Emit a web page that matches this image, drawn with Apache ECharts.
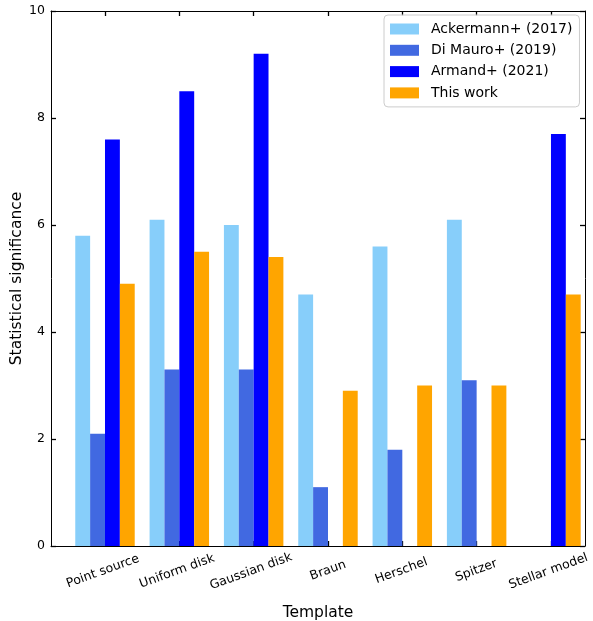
<!DOCTYPE html>
<html>
<head>
<meta charset="utf-8">
<title>Statistical significance by template</title>
<script src="https://cdn.jsdelivr.net/npm/echarts@6/dist/echarts.min.js"></script>
<style>
  html, body { margin: 0; padding: 0; background: #ffffff; }
  #chart { width: 593px; height: 621px; }
</style>
</head>
<body>
<div id="chart"></div>
<script>
// Templates on the x axis
const categories = ['Point source', 'Uniform disk', 'Gaussian disk', 'Braun', 'Herschel', 'Spitzer', 'Stellar model'];

// Significance per template for each analysis (null = not reported)
const ackermann2017 = [5.8, 6.1, 6.0, 4.7, 5.6, 6.1, null];
const diMauro2019   = [2.1, 3.3, 3.3, 1.1, 1.8, 3.1, null];
const armand2021    = [7.6, 8.5, 9.2, null, null, null, 7.7];
const thisWork      = [4.9, 5.5, 5.4, 2.9, 3.0, 3.0, 4.7];

const seriesNames = ['Ackermann+ (2017)', 'Di Mauro+ (2019)', 'Armand+ (2021)', 'This work'];

// y axis range and tick step
const yMin = 0;
const yMax = 10;
const yStep = 2;

const FONT = '"DejaVu Sans", "Noto Sans", sans-serif';
const tickFontSize = 12.5;
const labelFontSize = 15.5;
const colors = ['#87CEFA', '#4169E1', '#0000FF', '#FFA500'];

// Rotated tick labels: keep the top of every rotated label box on one line,
// so longer labels sit a little lower (shift done in the text's own frame).
const ctx = document.createElement('canvas').getContext('2d');
ctx.font = tickFontSize + 'px "DejaVu Sans"';
const widths = categories.map(c => ctx.measureText(c).width);
const minW = Math.min.apply(null, widths);
const ang = 20 * Math.PI / 180;
const catItems = categories.map((c, i) => {
  const dy = (widths[i] - minW) * Math.sin(ang) / 2;
  return {
    value: c,
    textStyle: {
      align: 'center',
      verticalAlign: 'middle',
      padding: [2 * dy * Math.cos(ang), 2 * dy * Math.sin(ang), 0, 0]
    }
  };
});

const chart = echarts.init(document.getElementById('chart'), null, { renderer: 'canvas' });

const frameLine = { show: true, onZero: false, lineStyle: { color: '#000', width: 1 } };
const inTick = { show: true, inside: true, length: 5, lineStyle: { color: '#000', width: 1.3 } };

const option = {
  backgroundColor: '#ffffff',
  animation: false,
  textStyle: { fontFamily: FONT },
  color: colors,
  legend: {
    orient: 'vertical',
    left: 384,
    top: 15,
    data: seriesNames,
    icon: 'rect',
    itemWidth: 29,
    itemHeight: 11,
    itemGap: 5.3,
    padding: [6, 7, 6, 6],
    backgroundColor: 'rgba(255,255,255,0.8)',
    borderColor: '#cccccc',
    borderWidth: 1,
    borderRadius: 4,
    textStyle: {
      fontFamily: FONT,
      fontSize: 14,
      lineHeight: 16,
      color: '#000',
      padding: [0, 0, 0, 7]
    }
  },
  grid: [
    // frame of the axes
    { left: 51, right: 8, top: 11, bottom: 75, outerBoundsMode: 'none', containLabel: false },
    // bar area: category bands aligned with the frame
    { left: 67.83, width: 520.3, top: 11, bottom: 75, outerBoundsMode: 'none', containLabel: false }
  ],
  xAxis: [
    {
      gridIndex: 0, type: 'value', min: 0, max: 1, position: 'bottom',
      axisLine: frameLine, axisTick: { show: false }, axisLabel: { show: false },
      splitLine: { show: false },
      name: 'Template', nameLocation: 'middle', nameGap: 59, nameMoveOverlap: false,
      nameTextStyle: { fontFamily: FONT, fontSize: labelFontSize, color: '#000' }
    },
    {
      gridIndex: 0, type: 'value', min: 0, max: 1, position: 'top',
      axisLine: frameLine, axisTick: { show: false }, axisLabel: { show: false },
      splitLine: { show: false }
    },
    {
      gridIndex: 1, type: 'category', data: catItems, position: 'bottom',
      axisLine: { show: false, onZero: false },
      axisTick: Object.assign({ alignWithLabel: true, interval: 0 }, inTick),
      axisLabel: {
        interval: 0, rotate: 20, align: 'center', verticalAlign: 'middle',
        margin: 24.5, fontFamily: FONT, fontSize: tickFontSize, color: '#000'
      },
      splitLine: { show: false }
    },
    {
      gridIndex: 1, type: 'category', data: categories, position: 'top',
      axisLine: { show: false, onZero: false },
      axisTick: Object.assign({ alignWithLabel: true, interval: 0 }, inTick),
      axisLabel: { show: false },
      splitLine: { show: false }
    }
  ],
  yAxis: [
    {
      gridIndex: 0, type: 'value', min: yMin, max: yMax, interval: yStep, position: 'left',
      axisLine: frameLine, axisTick: inTick,
      axisLabel: { margin: 6, fontFamily: FONT, fontSize: tickFontSize, color: '#000' },
      splitLine: { show: false },
      name: 'Statistical significance', nameLocation: 'middle', nameGap: 26, nameMoveOverlap: false,
      nameTextStyle: { fontFamily: FONT, fontSize: labelFontSize, color: '#000' }
    },
    {
      gridIndex: 0, type: 'value', min: yMin, max: yMax, interval: yStep, position: 'right',
      axisLine: frameLine, axisTick: inTick, axisLabel: { show: false },
      splitLine: { show: false }
    },
    {
      gridIndex: 1, type: 'value', min: yMin, max: yMax, interval: yStep, show: false
    }
  ],
  series: [ackermann2017, diMauro2019, armand2021, thisWork].map((vals, i) => ({
    name: seriesNames[i],
    type: 'bar',
    xAxisIndex: 2,
    yAxisIndex: 2,
    data: vals.map(v => (v === null ? '-' : v)),
    barWidth: '20%',
    barGap: '0%',
    itemStyle: { color: colors[i] },
    emphasis: { disabled: true }
  }))
};

chart.setOption(option);
</script>
</body>
</html>
